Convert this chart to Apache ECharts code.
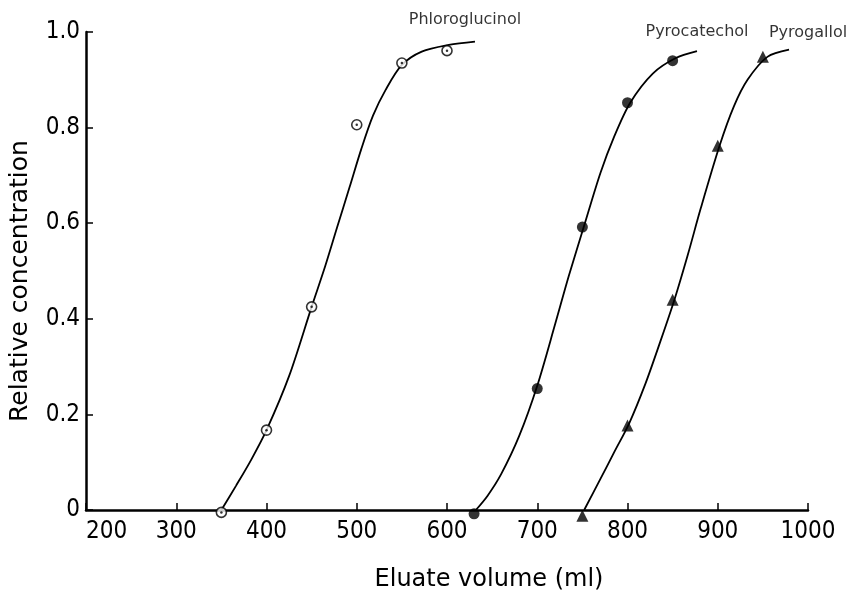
<!DOCTYPE html>
<html>
<head>
<meta charset="utf-8">
<script src="https://cdn.jsdelivr.net/npm/echarts@6/dist/echarts.min.js"></script>
<style>
  html, body { margin: 0; padding: 0; background: #fff; }
  #main { width: 851px; height: 597px; }
</style>
</head>
<body>
<div id="main"></div>
<script>
// measured points (eluate volume ml, relative concentration)
var phloroPoints = [[350, -0.005], [400, 0.167], [450, 0.425], [500, 0.806], [550, 0.935], [600, 0.961]];
var catecholPoints = [[630, -0.008], [700, 0.254], [750, 0.592], [800, 0.852], [850, 0.94]];
var gallolPoints = [[750, -0.012], [800, 0.177], [850, 0.44], [900, 0.762], [950, 0.948]];

// hand drawn curves
var phloroCurve = [[350, 0], [366, 0.05], [383, 0.105], [400, 0.167], [425, 0.28], [450, 0.425], [465, 0.51],
  [478, 0.59], [492, 0.675], [505, 0.755], [518, 0.825], [532, 0.879], [550, 0.931], [572, 0.959],
  [602, 0.973], [631, 0.98]];
var catecholCurve = [[632, 0], [645, 0.03], [660, 0.075], [680, 0.155], [700, 0.26], [720, 0.39], [735, 0.49],
  [752, 0.595], [770, 0.705], [785, 0.78], [803, 0.852], [828, 0.913], [853, 0.945], [877, 0.96]];
var gallolCurve = [[752, 0], [770, 0.065], [785, 0.12], [802, 0.182], [820, 0.265], [835, 0.345], [852, 0.44],
  [867, 0.535], [881, 0.63], [902, 0.762], [918, 0.845], [933, 0.9], [955, 0.948], [979, 0.963]];

var curveNames = ["Phloroglucinol", "Pyrocatechol", "Pyrogallol"];

var chart = {
  init: function () {
    var myChart = echarts.init(document.getElementById("main"));
    var curves = [phloroCurve, catecholCurve, gallolCurve];
    var labelOffsets = [[-10, -22], [0, -19], [19, -17]];
    var series = [];
    for (let i = 0; i < curves.length; i++) {
      series.push({
        name: curveNames[i],
        type: "line",
        data: curves[i],
        smooth: 0.3,
        showSymbol: false,
        symbol: "none",
        lineStyle: { color: "#000", width: 1.8 },
        z: 2
      });
      // name written just above the end of each curve
      series.push({
        type: "scatter",
        data: [curves[i][curves[i].length - 1]],
        symbolSize: 0,
        clip: false,
        silent: true,
        label: {
          show: true,
          position: "inside",
          offset: labelOffsets[i],
          formatter: curveNames[i],
          fontFamily: "DejaVu Sans",
          fontSize: 16,
          color: "#000"
        }
      });
    }
    series.push({
      type: "scatter",
      data: phloroPoints,
      symbol: "circle",
      symbolSize: 10,
      clip: false,
      itemStyle: { color: "#fff", borderColor: "#000", borderWidth: 1.6 },
      z: 3
    });
    series.push({
      type: "scatter",
      data: phloroPoints,
      symbol: "circle",
      symbolSize: 2.5,
      clip: false,
      itemStyle: { color: "#000" },
      z: 4
    });
    series.push({
      type: "scatter",
      data: catecholPoints,
      symbol: "circle",
      symbolSize: 11,
      clip: false,
      itemStyle: { color: "#000" },
      z: 3
    });
    series.push({
      type: "scatter",
      data: gallolPoints,
      symbol: "triangle",
      symbolSize: 12,
      clip: false,
      itemStyle: { color: "#000" },
      z: 3
    });

    var option = {
      animation: false,
      backgroundColor: "#fff",
      grid: { left: 82, right: 43, top: 32, bottom: 85 },
      xAxis: {
        type: "value",
        min: 200,
        max: 1000,
        interval: 100,
        name: "Eluate volume (ml)",
        nameLocation: "middle",
        nameGap: 58,
        nameTextStyle: { fontFamily: "DejaVu Sans", fontSize: 24, color: "#000", padding: [0, 0, 0, 84] },
        axisLine: { lineStyle: { color: "#000", width: 2.5 } },
        axisTick: { inside: true, length: 7, lineStyle: { color: "#000", width: 1.5 } },
        axisLabel: {
          margin: 10,
          alignMinLabel: "left",
          fontFamily: "Liberation Sans Narrow, DejaVu Sans Condensed, sans-serif",
          fontSize: 24,
          color: "#000",
          formatter: function (v) {
            return String(v);
          }
        },
        splitLine: { show: false }
      },
      yAxis: {
        type: "value",
        min: 0,
        max: 1,
        interval: 0.2,
        name: "Relative concentration",
        nameLocation: "middle",
        nameGap: 53,
        nameTextStyle: { fontFamily: "DejaVu Sans", fontSize: 25, color: "#000", padding: [0, 20, 0, 0] },
        axisLine: { show: true, lineStyle: { color: "#000", width: 2.5 } },
        axisTick: { show: true, inside: true, length: 7, lineStyle: { color: "#000", width: 1.5 } },
        axisLabel: {
          margin: 6,
          fontFamily: "Liberation Sans Narrow, DejaVu Sans Condensed, sans-serif",
          fontSize: 24,
          color: "#000",
          formatter: function (v) {
            return v === 0 ? "0" : v.toFixed(1);
          }
        },
        splitLine: { show: false }
      },
      series: series
    };
    myChart.setOption(option);
  }
};
chart.init();
</script>
</body>
</html>
